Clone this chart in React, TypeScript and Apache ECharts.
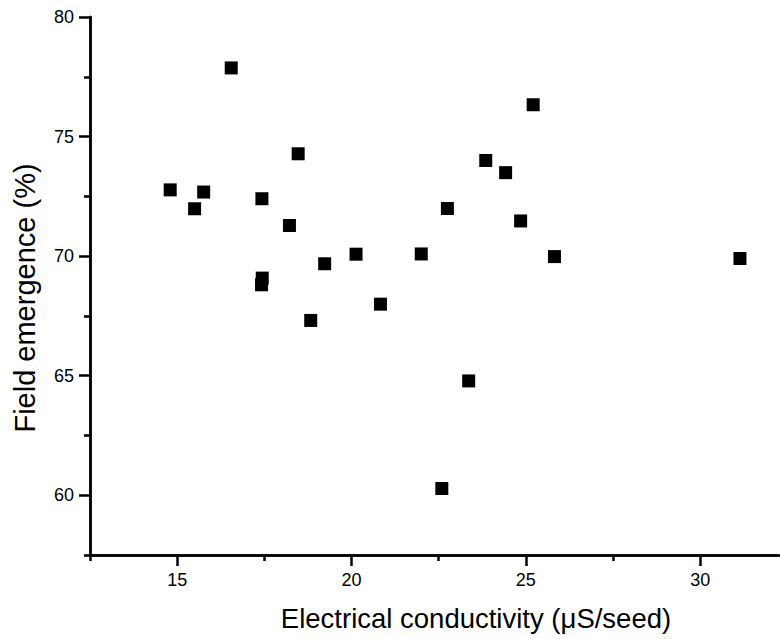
import React, { useEffect, useRef } from "react";
import * as echarts from "echarts";

// Seed vigour lots: electrical conductivity vs. field emergence
const conductivity = [
  16.55, 18.47, 14.8, 15.76, 15.5, 17.43, 18.22, 19.23, 20.13, 17.44, 17.42,
  20.83, 18.83, 25.21, 23.85, 24.42, 22.75, 24.85, 22.0, 25.82, 31.14, 23.36,
  22.59,
];
const emergence = [
  77.87, 74.28, 72.77, 72.68, 71.98, 72.4, 71.28, 69.68, 70.08, 69.08, 68.8,
  67.99, 67.31, 76.33, 74.0, 73.49, 71.99, 71.47, 70.09, 69.98, 69.9, 64.78,
  60.28,
];

const xMajorTicks = [15, 20, 25, 30];
const xMinorTicks = [12.5, 17.5, 22.5, 27.5];
const yMajorTicks = [60, 65, 70, 75, 80];
const yMinorTicks = [57.5, 62.5, 67.5, 72.5, 77.5];

const FONT = "Liberation Sans, Arial, Helvetica, sans-serif";
const X_MIN = 12.5;
const X_MAX = 32.26;
const Y_MIN = 57.5;
const Y_MAX = 80;

export default function App() {
  const ref = useRef<HTMLDivElement>(null);

  useEffect(() => {
    if (!ref.current) return;
    const chart = echarts.init(ref.current, null, { renderer: "svg" });

    const line = { show: true, lineStyle: { color: "#000", width: 2.5, opacity: 1 } };
    const tickStyle = { color: "#000", width: 2.5, opacity: 1 };

    chart.setOption({
      animation: false,
      backgroundColor: "#fff",
      grid: { left: 90, top: 17, right: 1, bottom: 84, containLabel: false },
      xAxis: [
        {
          type: "value",
          min: X_MIN,
          max: X_MAX,
          position: "bottom",
          axisLine: line,
          splitLine: { show: false },
          axisTick: {
            show: true,
            length: 11,
            customValues: xMajorTicks,
            lineStyle: tickStyle,
          },
          axisLabel: {
            customValues: xMajorTicks,
            margin: 16,
            color: "#000",
            fontSize: 18,
            fontFamily: FONT,
          },
          name: "Electrical conductivity (\u03bcS/seed)",
          nameLocation: "middle",
          nameGap: 49,
          nameTextStyle: {
            color: "#000",
            fontSize: 27.5,
            fontFamily: FONT,
            padding: [0, 0, 0, 83],
          },
        },
        {
          type: "value",
          min: X_MIN,
          max: X_MAX,
          position: "bottom",
          axisLine: line,
          splitLine: { show: false },
          axisTick: {
            show: true,
            length: 6,
            customValues: xMinorTicks,
            lineStyle: tickStyle,
          },
          axisLabel: { show: false },
        },
      ],
      yAxis: [
        {
          type: "value",
          min: Y_MIN,
          max: Y_MAX,
          position: "left",
          axisLine: line,
          splitLine: { show: false },
          axisTick: {
            show: true,
            length: 11,
            customValues: yMajorTicks,
            lineStyle: tickStyle,
          },
          axisLabel: {
            customValues: yMajorTicks,
            margin: 16,
            color: "#000",
            fontSize: 18,
            fontFamily: FONT,
          },
          name: "Field emergence (%)",
          nameLocation: "middle",
          nameRotate: 90,
          nameGap: 51,
          nameTextStyle: {
            color: "#000",
            fontSize: 29,
            fontFamily: FONT,
            padding: [0, 24, 0, 0],
          },
        },
        {
          type: "value",
          min: Y_MIN,
          max: Y_MAX,
          position: "left",
          axisLine: line,
          splitLine: { show: false },
          axisTick: {
            show: true,
            length: 6,
            customValues: yMinorTicks,
            lineStyle: tickStyle,
          },
          axisLabel: { show: false },
        },
      ],
      series: [
        {
          type: "scatter",
          xAxisIndex: 0,
          yAxisIndex: 0,
          symbol: "rect",
          symbolSize: 13,
          itemStyle: { color: "#000", opacity: 1 },
          data: conductivity.map((x, i) => [x, emergence[i]]),
        },
      ],
    });

    return () => chart.dispose();
  }, []);

  return (
    <div
      ref={ref}
      style={{ position: "fixed", left: 0, top: 0, width: 780, height: 639 }}
    />
  );
}
